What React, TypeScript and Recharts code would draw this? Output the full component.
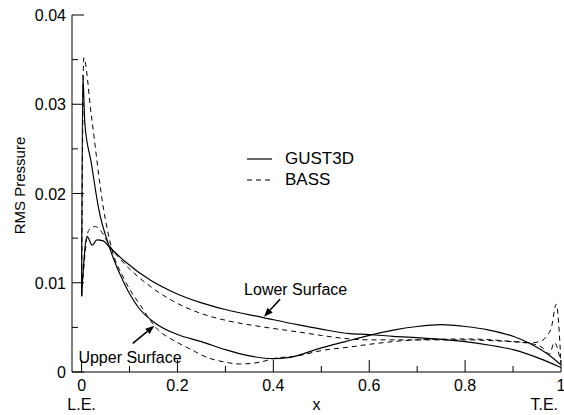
import { LineChart, Line, XAxis, YAxis, Legend, ReferenceLine, ReferenceDot } from "recharts";

const FONT = '"Liberation Sans", Arial, sans-serif';
const BASS_DASH = "5 4";

// GUST3D, upper surface (LE -> TE)
const gustUpperX = [0, 0.0025, 0.0067, 0.02, 0.036, 0.058, 0.09, 0.119, 0.153, 0.2, 0.25, 0.3, 0.35, 0.4, 0.43, 0.5, 0.55, 0.6, 0.65, 0.7, 0.75, 0.8, 0.85, 0.9, 0.935, 0.97, 1];
const gustUpperY = [0.0085, 0.0333, 0.0279, 0.0235, 0.0182, 0.014, 0.0098, 0.0072, 0.0055, 0.0042, 0.0034, 0.0025, 0.0018, 0.0015, 0.0016, 0.0027, 0.0034, 0.0041, 0.0047, 0.0051, 0.0053, 0.0051, 0.0047, 0.004, 0.0032, 0.0021, 0.0008];

// GUST3D, lower surface
const gustLowerX = [0, 0.0115, 0.022, 0.032, 0.045, 0.058, 0.09, 0.143, 0.189, 0.247, 0.3, 0.379, 0.45, 0.5, 0.56, 0.6, 0.65, 0.713, 0.8, 0.852, 0.9, 0.956, 1];
const gustLowerY = [0.0085, 0.0152, 0.0142, 0.0148, 0.0147, 0.014, 0.0124, 0.0103, 0.009, 0.0078, 0.007, 0.0061, 0.0053, 0.0048, 0.0043, 0.0042, 0.004, 0.0038, 0.0034, 0.003, 0.0025, 0.0015, 0.0005];

// BASS, upper surface
const bassUpperX = [0, 0.0046, 0.02, 0.046, 0.062, 0.09, 0.126, 0.153, 0.2, 0.233, 0.25, 0.3, 0.33, 0.372, 0.4, 0.45, 0.5, 0.56, 0.6, 0.7, 0.8, 0.9, 0.945, 0.962, 0.976, 0.986, 1];
const bassUpperY = [0.0085, 0.0352, 0.0289, 0.0182, 0.014, 0.0103, 0.0072, 0.0051, 0.0033, 0.0024, 0.0019, 0.0011, 0.0009, 0.0011, 0.0015, 0.0018, 0.0024, 0.0028, 0.0031, 0.0036, 0.0037, 0.0034, 0.0031, 0.0027, 0.002, 0.0033, 0.001];

// BASS, lower surface
const bassLowerX = [0, 0.015, 0.029, 0.043, 0.058, 0.09, 0.143, 0.189, 0.247, 0.3, 0.372, 0.45, 0.5, 0.56, 0.6, 0.7, 0.8, 0.9, 0.94, 0.955, 0.97, 0.98, 0.99, 1];
const bassLowerY = [0.0085, 0.0159, 0.0163, 0.0156, 0.0142, 0.0121, 0.0096, 0.008, 0.0066, 0.0058, 0.0051, 0.0045, 0.0041, 0.0037, 0.0036, 0.0036, 0.0036, 0.0034, 0.0033, 0.0034, 0.004, 0.005, 0.0076, 0.001];

const xTicks = [0, 0.1, 0.2, 0.3, 0.4, 0.5, 0.6, 0.7, 0.8, 0.9, 1];
const yTicks = [0, 0.005, 0.01, 0.015, 0.02, 0.025, 0.03, 0.035, 0.04];
const legendNames = ["GUST3D", "BASS"];

const toPoints = (xs: number[], ys: number[]) => xs.map((x, i) => ({ x, y: ys[i] }));

const isMajorX = (v: number) => Math.abs(v * 5 - Math.round(v * 5)) < 1e-6;
const isMajorY = (v: number) => Math.abs(v * 100 - Math.round(v * 100)) < 1e-6;

const MAJOR = 12;
const MINOR = 6;

const BottomTick = (props: any) => {
  const { x, y, payload } = props;
  const v = payload.value;
  const major = isMajorX(v);
  return (
    <g>
      <line x1={x} y1={y} x2={x} y2={y - (major ? MAJOR : MINOR)} stroke="#000" />
      {major && (
        <text x={x} y={y + 19} textAnchor="middle" fontSize={16} fontFamily={FONT} fill="#000">
          {String(v)}
        </text>
      )}
      {v === 0 && (
        <text x={x} y={y + 38} textAnchor="middle" fontSize={16} fontFamily={FONT} fill="#000">
          L.E.
        </text>
      )}
      {v === 1 && (
        <text x={x - 3} y={y + 38} textAnchor="end" fontSize={16} fontFamily={FONT} fill="#000">
          T.E.
        </text>
      )}
    </g>
  );
};

const TopTick = (props: any) => {
  const { x, y, payload } = props;
  const major = isMajorX(payload.value);
  return <line x1={x} y1={y} x2={x} y2={y + (major ? MAJOR : MINOR)} stroke="#000" />;
};

const LeftTick = (props: any) => {
  const { x, y, payload } = props;
  const v = payload.value;
  const major = isMajorY(v);
  return (
    <g>
      <line x1={x} y1={y} x2={x + (major ? MAJOR : MINOR)} y2={y} stroke="#000" />
      {major && (
        <text x={x - 6} y={y + 6} textAnchor="end" fontSize={16} fontFamily={FONT} fill="#000">
          {String(v)}
        </text>
      )}
    </g>
  );
};

const RightTick = (props: any) => {
  const { x, y, payload } = props;
  const major = isMajorY(payload.value);
  return <line x1={x} y1={y} x2={x - (major ? MAJOR : MINOR)} y2={y} stroke="#000" />;
};

const YTitle = (props: any) => {
  const vb = props.viewBox;
  const cx = vb.x + 19;
  const cy = vb.y + vb.height / 2 - 8;
  return (
    <text x={cx} y={cy} transform={`rotate(-90 ${cx} ${cy})`} textAnchor="middle" dominantBaseline="central" fontSize={15} fontFamily={FONT} fill="#000">
      RMS Pressure
    </text>
  );
};

const XTitle = (props: any) => {
  const vb = props.viewBox;
  return (
    <text x={vb.x + vb.width / 2} y={vb.y + 38} textAnchor="middle" fontSize={16} fontFamily={FONT} fill="#000">
      x
    </text>
  );
};

const Arrow = (props: any) => {
  const { x1, y1, x2, y2 } = props;
  const a = Math.atan2(y2 - y1, x2 - x1);
  const len = 9;
  const w = 3.5;
  const bx = x2 - len * Math.cos(a);
  const by = y2 - len * Math.sin(a);
  const px = -Math.sin(a) * w;
  const py = Math.cos(a) * w;
  return (
    <g>
      <line x1={x1} y1={y1} x2={bx} y2={by} stroke="#000" strokeWidth={1.6} />
      <polygon points={`${x2},${y2} ${bx + px},${by + py} ${bx - px},${by - py}`} fill="#000" />
    </g>
  );
};

const Note = (text: string) => (props: any) => (
  <text x={props.cx} y={props.cy} fontSize={16} fontFamily={FONT} fill="#000">
    {text}
  </text>
);

const LegendBox = () => (
  <div style={{ fontFamily: FONT, fontSize: 17, color: "#000" }}>
    {legendNames.map((name) => (
      <div key={name} style={{ display: "flex", alignItems: "center", height: 21 }}>
        <svg width={38} height={10} style={{ display: "block" }}>
          <line x1={0} y1={5} x2={25} y2={5} stroke="#000" strokeWidth={name === "BASS" ? 1 : 1.2} strokeDasharray={name === "BASS" ? BASS_DASH : undefined} />
        </svg>
        <span>{name}</span>
      </div>
    ))}
  </div>
);

export default function App() {
  return (
    <div style={{ position: "absolute", left: 0, top: 0, background: "#fff" }}>
      <LineChart width={564} height={415} margin={{ top: 15, right: 3, left: 0, bottom: 0 }}>
        <XAxis
          xAxisId="b"
          type="number"
          dataKey="x"
          domain={[-0.02, 1]}
          allowDataOverflow
          ticks={xTicks}
          interval={0}
          tickSize={0}
          tickMargin={0}
          tick={<BottomTick />}
          height={43}
          axisLine={{ stroke: "#000" }}
          label={<XTitle />}
        />
        <XAxis
          xAxisId="t"
          orientation="top"
          type="number"
          dataKey="x"
          domain={[-0.02, 1]}
          allowDataOverflow
          ticks={xTicks}
          interval={0}
          tickSize={0}
          tickMargin={0}
          tick={<TopTick />}
          height={0}
          axisLine={{ stroke: "#000" }}
        />
        <YAxis
          yAxisId="l"
          type="number"
          domain={[0, 0.04]}
          allowDataOverflow
          ticks={yTicks}
          interval={0}
          tickSize={0}
          tickMargin={0}
          tick={<LeftTick />}
          width={72}
          axisLine={{ stroke: "#000" }}
          label={<YTitle />}
        />
        <YAxis
          yAxisId="r"
          orientation="right"
          type="number"
          domain={[0, 0.04]}
          allowDataOverflow
          ticks={yTicks}
          interval={0}
          tickSize={0}
          tickMargin={0}
          tick={<RightTick />}
          width={0}
          axisLine={{ stroke: "#000" }}
        />
        <Legend
          layout="vertical"
          align="center"
          verticalAlign="middle"
          content={<LegendBox />}
          wrapperStyle={{ left: 247, top: 148, width: 130 }}
        />
        <Line xAxisId="b" yAxisId="l" name="GUST3D" data={toPoints(gustUpperX, gustUpperY)} dataKey="y" type="monotone" stroke="#000" strokeWidth={1.2} dot={false} activeDot={false} isAnimationActive={false} />
        <Line xAxisId="b" yAxisId="l" name="GUST3D lower" data={toPoints(gustLowerX, gustLowerY)} dataKey="y" type="monotone" stroke="#000" strokeWidth={1.2} dot={false} activeDot={false} isAnimationActive={false} />
        <Line xAxisId="b" yAxisId="l" name="BASS" data={toPoints(bassUpperX, bassUpperY)} dataKey="y" type="monotone" stroke="#000" strokeWidth={1} strokeDasharray={BASS_DASH} dot={false} activeDot={false} isAnimationActive={false} />
        <Line xAxisId="b" yAxisId="l" name="BASS lower" data={toPoints(bassLowerX, bassLowerY)} dataKey="y" type="monotone" stroke="#000" strokeWidth={1} strokeDasharray={BASS_DASH} dot={false} activeDot={false} isAnimationActive={false} />
        <ReferenceLine xAxisId="b" yAxisId="l" segment={[{ x: 0.414, y: 0.00815 }, { x: 0.3806, y: 0.0062 }]} shape={Arrow} ifOverflow="visible" />
        <ReferenceLine xAxisId="b" yAxisId="l" segment={[{ x: 0.1068, y: 0.00322 }, { x: 0.1518, y: 0.00519 }]} shape={Arrow} ifOverflow="visible" />
        <ReferenceDot xAxisId="b" yAxisId="l" x={0.339} y={0.0086} r={0} shape={Note("Lower Surface")} ifOverflow="visible" />
        <ReferenceDot xAxisId="b" yAxisId="l" x={-0.0067} y={0.00104} r={0} shape={Note("Upper Surface")} ifOverflow="visible" />
      </LineChart>
    </div>
  );
}
